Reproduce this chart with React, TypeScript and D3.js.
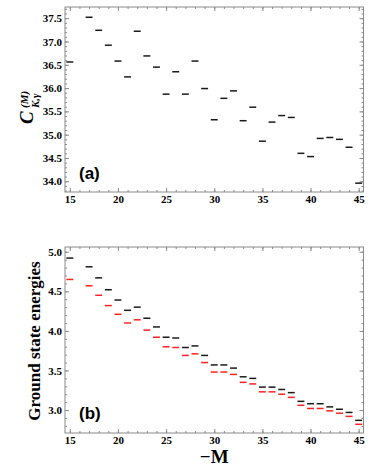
import React, { useEffect, useRef } from 'react'
import * as d3 from 'd3'

// panel (a): coefficient per -M (no value at 16)
const mA = [15, 17, 18, 19, 20, 21, 22, 23, 24, 25, 26, 27, 28, 29, 30, 31, 32, 33, 34, 35, 36, 37, 38, 39, 40, 41, 42, 43, 44, 45]
const coefA = [36.56, 37.52, 37.24, 36.92, 36.58, 36.24, 37.22, 36.69, 36.45, 35.87, 36.35, 35.87, 36.58, 35.99, 35.32, 35.78, 35.94, 35.30, 35.59, 34.86, 35.27, 35.41, 35.37, 34.60, 34.53, 34.92, 34.94, 34.90, 34.73, 33.96]

// panel (b): ground state energies, two series
const mB = [15, 17, 18, 19, 20, 21, 22, 23, 24, 25, 26, 27, 28, 29, 30, 31, 32, 33, 34, 35, 36, 37, 38, 39, 40, 41, 42, 43, 44, 45]
const upperB = [4.92, 4.81, 4.67, 4.52, 4.39, 4.26, 4.30, 4.16, 4.05, 3.92, 3.91, 3.79, 3.81, 3.69, 3.57, 3.57, 3.53, 3.42, 3.40, 3.29, 3.29, 3.26, 3.22, 3.11, 3.08, 3.08, 3.04, 3.01, 2.97, 2.87]
const lowerB = [4.65, 4.57, 4.45, 4.32, 4.21, 4.10, 4.14, 4.01, 3.92, 3.80, 3.79, 3.69, 3.71, 3.60, 3.48, 3.48, 3.45, 3.35, 3.33, 3.23, 3.23, 3.20, 3.16, 3.06, 3.02, 3.02, 2.99, 2.96, 2.92, 2.82]

const xTicks = [15, 20, 25, 30, 35, 40, 45]
const yTicksA = [34.0, 34.5, 35.0, 35.5, 36.0, 36.5, 37.0, 37.5]
const yTicksB = [3.0, 3.5, 4.0, 4.5, 5.0]

const W = 374
const H = 468
const left = 65
const right = 363.5
const frameCol = '#8a8a8a'
const serif = '"Liberation Serif", "Times New Roman", serif'
const sans = '"Liberation Sans", Arial, sans-serif'

function drawPanel (svg, opts) {
  const { top, bottom, yDomain, yTicks, series, tag, tagY } = opts
  const x = d3.scaleLinear().domain([14.5, 45.5]).range([left, right])
  const y = d3.scaleLinear().domain(yDomain).range([bottom, top])
  const g = svg.append('g')

  const minorX = d3.range(15, 46)
  const minorY = d3.range(Math.ceil(yDomain[0] * 10), Math.floor(yDomain[1] * 10) + 1).map(v => v / 10)

  const fmt = d3.format('.1f')
  const axes = [
    { ax: d3.axisBottom(x), at: `translate(0,${bottom})`, major: xTicks, minor: minorX, labels: true, f: d3.format('d') },
    { ax: d3.axisTop(x), at: `translate(0,${top})`, major: xTicks, minor: minorX, labels: false },
    { ax: d3.axisLeft(y), at: `translate(${left},0)`, major: yTicks, minor: minorY, labels: true, f: fmt },
    { ax: d3.axisRight(y), at: `translate(${right},0)`, major: yTicks, minor: minorY, labels: false }
  ]

  axes.forEach(a => {
    // minor ticks
    g.append('g')
      .attr('transform', a.at)
      .call(a.ax.tickValues(a.minor).tickSizeInner(-2).tickSizeOuter(0).tickFormat(() => ''))
      .call(s => s.select('.domain').remove())
      .selectAll('line').attr('stroke', frameCol)
    // major ticks
    const maj = g.append('g')
      .attr('transform', a.at)
      .call(a.ax.tickValues(a.major).tickSizeInner(-4).tickSizeOuter(0).tickPadding(a.labels ? 3 : 0)
        .tickFormat(a.labels ? a.f : () => ''))
      .call(s => s.select('.domain').remove())
    maj.selectAll('line').attr('stroke', frameCol)
    maj.selectAll('text')
      .attr('fill', '#000')
      .attr('font-family', serif)
      .attr('font-weight', 'bold')
      .attr('font-size', 11)
  })

  g.append('rect')
    .attr('x', left)
    .attr('y', top)
    .attr('width', right - left)
    .attr('height', bottom - top)
    .attr('fill', 'none')
    .attr('stroke', frameCol)
    .attr('stroke-width', 1)

  const half = (x(15.36) - x(15)) 
  series.forEach(s => {
    g.append('g')
      .selectAll('line')
      .data(s.xs.map((m, i) => [m, s.ys[i]]))
      .join('line')
      .attr('x1', d => x(d[0]) - half)
      .attr('x2', d => x(d[0]) + half)
      .attr('y1', d => y(d[1]))
      .attr('y2', d => y(d[1]))
      .attr('stroke', s.color)
      .attr('stroke-width', 1.5)
  })

  g.append('text')
    .attr('x', 79)
    .attr('y', tagY)
    .attr('font-family', sans)
    .attr('font-weight', 'bold')
    .attr('font-size', 17)
    .text(tag)
}

export default function App () {
  const ref = useRef(null)

  useEffect(() => {
    const svg = d3.select(ref.current)
    svg.selectAll('*').remove()

    drawPanel(svg, {
      top: 7,
      bottom: 192,
      yDomain: [33.77, 37.74],
      yTicks: yTicksA,
      series: [{ xs: mA, ys: coefA, color: '#1a1a1a' }],
      tag: '(a)',
      tagY: 179
    })

    drawPanel(svg, {
      top: 247,
      bottom: 433,
      yDomain: [2.71, 5.06],
      yTicks: yTicksB,
      series: [
        { xs: mB, ys: upperB, color: '#1a1a1a' },
        { xs: mB, ys: lowerB, color: '#ff2222' }
      ],
      tag: '(b)',
      tagY: 418.5
    })

    // y label of (a): C^(M)_{K,γ}
    const la = svg.append('g')
      .attr('transform', 'translate(33,124) rotate(-90)')
      .attr('font-family', serif)
      .attr('font-weight', 'bold')
      .attr('font-style', 'italic')
    la.append('text').attr('x', 0).attr('y', 0).attr('font-size', 19).text('C')
    la.append('text').attr('x', 16).attr('y', -5).attr('font-size', 11).text('(M)')
    la.append('text').attr('x', 16).attr('y', 6).attr('font-size', 11).text('K,γ')

    // y label of (b)
    svg.append('text')
      .attr('transform', 'translate(39.5,341) rotate(-90)')
      .attr('text-anchor', 'middle')
      .attr('font-family', serif)
      .attr('font-weight', 'bold')
      .attr('font-size', 17)
      .text('Ground state energies')

    // x label
    svg.append('text')
      .attr('x', (left + right) / 2)
      .attr('y', 463)
      .attr('text-anchor', 'middle')
      .attr('font-family', serif)
      .attr('font-weight', 'bold')
      .attr('font-size', 19)
      .text('−M')
  }, [])

  return (
    <svg
      ref={ref}
      width={W}
      height={H}
      style={{ position: 'absolute', left: 0, top: 0, background: '#fff' }}
    />
  )
}
